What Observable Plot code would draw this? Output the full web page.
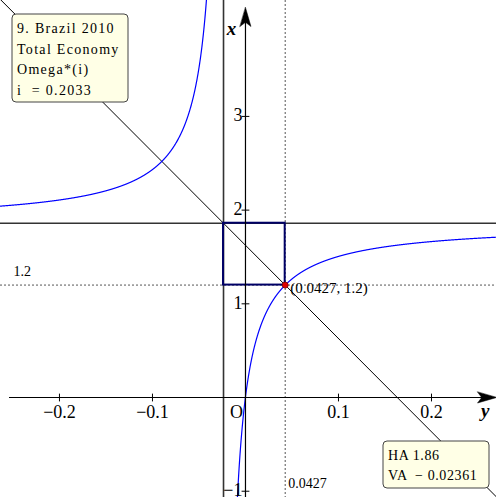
<!DOCTYPE html>
<html>
<head>
<meta charset="utf-8">
<script src="https://cdn.jsdelivr.net/npm/d3@7"></script>
<script src="https://cdn.jsdelivr.net/npm/@observablehq/plot@0.6"></script>
<style>
  body { margin: 0; background: #fff; }
  #chart svg { display: block; }
</style>
</head>
<body>
<div id="chart"></div>
<script>
// Asymptotes of the Omega*(i) hyperbola and the equilibrium point (y, x)
const ha = 1.86;
const va = -0.02361;
const point = {y: 0.0427, x: 1.2};

// Axis ticks
const hTicks = [-0.2, -0.1, 0.1, 0.2];
const vTicks = [-1, 1, 2, 3];

// Visible window (horizontal = y, vertical = x)
const hDomain = [-0.2634, 0.2699];
const vDomain = [-1.067, 4.237];

// Annotation texts
const infoLines = ["9. Brazil 2010", "Total Economy", "Omega*(i)", "i  = 0.2033"];
const asymLines = ["HA 1.86", "VA  \u2212 0.02361"];

const serif = "'Liberation Serif', 'DejaVu Serif', serif";
const fmt = d => String(d).replace("-", "\u2212");

// Hyperbola x = ha + k / (y - va) through the marked point
const k = (point.x - ha) * (point.y - va);
const leftEnd = va + k / (vDomain[1] + 0.5 - ha);
const rightStart = va + k / (vDomain[0] - 0.5 - ha);
const sample = (a, b, n) => d3.range(n + 1).map(i => a + (b - a) * i / n);
const leftBranch = sample(hDomain[0], leftEnd, 1500).map(h => ({h, v: ha + k / (h - va)}));
const rightBranch = sample(rightStart, hDomain[1], 3000).map(h => ({h, v: ha + k / (h - va)}));

// Line through the asymptote crossing and the point
const slope = (point.x - ha) / (point.y - va);
const diag = hDomain.map(h => ({h, v: ha + slope * (h - va)}));

// Filled arrowhead drawn along a vector
const arrowHead = {
  draw(context, l) {
    context.moveTo(0, -l);
    context.lineTo(5.5, 0);
    context.lineTo(0, -l * 0.22);
    context.lineTo(-5.5, 0);
    context.closePath();
  }
};
// Plain tick stroke
const tickLine = {
  draw(context, l) {
    context.moveTo(0, 0);
    context.lineTo(0, -l);
  }
};

const chart = Plot.plot({
  width: 496,
  height: 497,
  margin: 0,
  x: {domain: hDomain, axis: null},
  y: {domain: vDomain, axis: null},
  style: {fontFamily: serif, background: "#fff", overflow: "visible"},
  marks: [
    // guide lines through the point
    Plot.ruleY([point.x], {stroke: "#555", strokeWidth: 1, strokeDasharray: "2,2"}),
    Plot.ruleX([point.y], {stroke: "#555", strokeWidth: 1, strokeDasharray: "2,2"}),
    // asymptotes
    Plot.ruleX([va], {stroke: "#333", strokeWidth: 1.6}),
    Plot.ruleY([ha], {stroke: "#333", strokeWidth: 1.6}),
    // diagonal
    Plot.line(diag, {x: "h", y: "v", stroke: "#000", strokeWidth: 1, clip: true}),
    // box between asymptote crossing and point
    Plot.rect([point], {x1: va, x2: "y", y1: "x", y2: ha, stroke: "#000066", strokeWidth: 2, fill: "none"}),
    // hyperbola branches
    Plot.line(leftBranch, {x: "h", y: "v", stroke: "#0000ff", strokeWidth: 1.2, clip: true}),
    Plot.line(rightBranch, {x: "h", y: "v", stroke: "#0000ff", strokeWidth: 1.2, clip: true}),
    // axes
    Plot.ruleX([0], {stroke: "#000", strokeWidth: 1.2, insetTop: 12}),
    Plot.ruleY([0], {stroke: "#000", strokeWidth: 1.2, insetLeft: 9, insetRight: 6}),
    Plot.vector([0], {x: d => d, frameAnchor: "top", dy: 7, length: 19, anchor: "end", shape: arrowHead, fill: "#000", stroke: "#000", strokeWidth: 0.5}),
    Plot.vector([0], {y: d => d, frameAnchor: "right", rotate: 90, length: 19, anchor: "end", shape: arrowHead, fill: "#000", stroke: "#000", strokeWidth: 0.5}),
    // ticks
    Plot.vector(hTicks, {x: d => d, y: 0, length: 7, anchor: "middle", shape: tickLine, stroke: "#000", strokeWidth: 1}),
    Plot.vector(vTicks, {x: 0, y: d => d, length: 7, rotate: 90, anchor: "middle", shape: tickLine, stroke: "#000", strokeWidth: 1}),
    // tick labels
    Plot.text(hTicks, {x: d => d, y: 0, text: fmt, dy: 15, fontSize: 18, letterSpacing: 1, fill: "#000"}),
    Plot.text(vTicks, {x: 0, y: d => d, text: fmt, dx: -3, dy: -1, textAnchor: "end", fontSize: 18, fill: "#000"}),
    Plot.text(["O"], {x: 0, y: 0, text: d => d, dx: -9, dy: 15, fontSize: 18, fill: "#000"}),
    // axis names
    Plot.text(["x"], {x: 0, frameAnchor: "top", text: d => d, dx: -14, dy: 21, fontSize: 19, fontWeight: "bold", fontStyle: "italic", fill: "#000"}),
    Plot.text(["y"], {y: 0, frameAnchor: "right", text: d => d, dx: -7, dy: 13, fontSize: 19, fontWeight: "bold", fontStyle: "italic", fill: "#000"}),
    // point and its labels
    Plot.dot([point], {x: "y", y: "x", r: 3, fill: "#e00000", stroke: "#700", strokeWidth: 0.8}),
    Plot.text([point], {x: "y", y: "x", text: d => `(${d.y}, ${d.x})`, dx: 5, dy: 3, textAnchor: "start", fontSize: 15, letterSpacing: 0.9, fill: "#000"}),
    Plot.text([point.x], {y: d => d, frameAnchor: "left", text: fmt, dx: 13, dy: -14, textAnchor: "start", fontSize: 14, letterSpacing: 1, fill: "#000"}),
    Plot.text([point.y], {x: d => d, frameAnchor: "bottom", text: fmt, dx: 3, dy: -10, textAnchor: "start", fontSize: 14, letterSpacing: 1, fill: "#000"})
  ]
});

// Callout boxes
const svg = d3.select(chart);
function callout(x, y, w, h, lines, lineGap, spacing) {
  const g = svg.append("g").attr("transform", `translate(${x},${y})`);
  g.append("rect")
    .attr("width", w).attr("height", h).attr("rx", 4)
    .attr("fill", "#ffffe6").attr("stroke", "#444").attr("stroke-width", 1);
  g.selectAll("text").data(lines).join("text")
    .attr("x", 5)
    .attr("y", (d, i) => 19 + i * lineGap)
    .attr("text-anchor", "start")
    .attr("font-family", serif)
    .attr("font-size", 14)
    .attr("letter-spacing", spacing)
    .attr("fill", "#000")
    .style("white-space", "pre")
    .text(d => d);
}
callout(12, 14, 116, 88, infoLines, 20.5, 1.3);
callout(383, 441, 106, 47, asymLines, 20, 0.6);

document.getElementById("chart").appendChild(chart);
</script>
</body>
</html>
